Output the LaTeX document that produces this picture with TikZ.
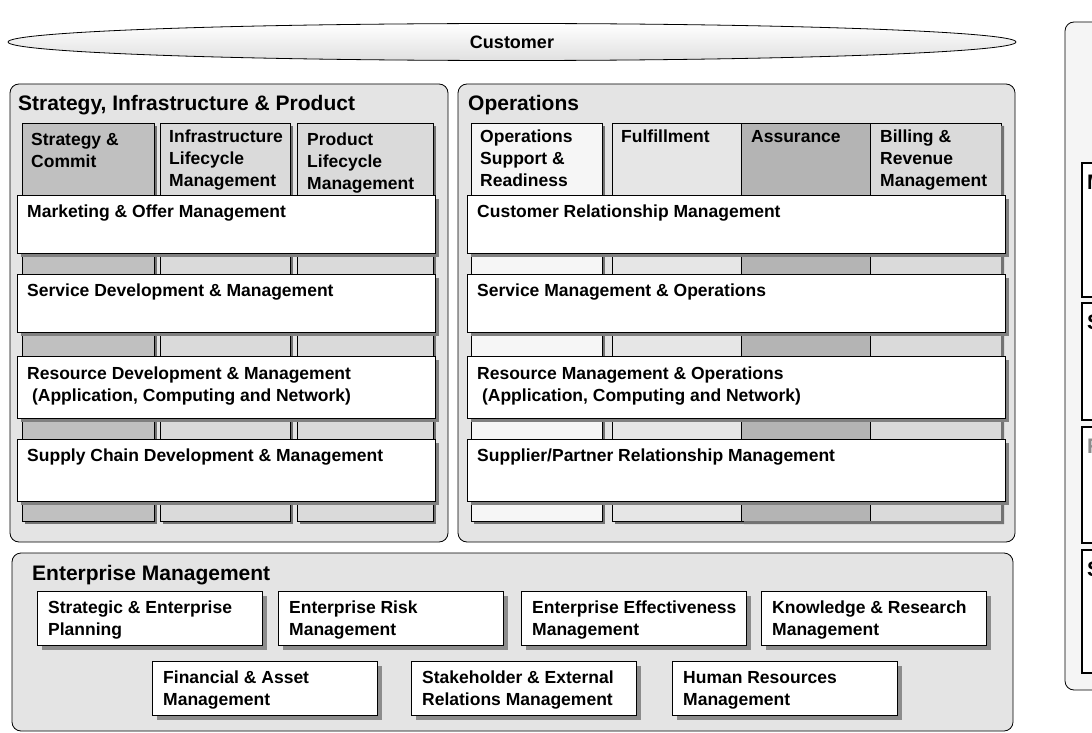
\documentclass[tikz,border=0pt]{standalone}
\usepackage{fontspec}
\setmainfont{Liberation Sans}
\usetikzlibrary{shapes.geometric,shadows}
\definecolor{panel}{HTML}{E4E4E4}
\definecolor{sc}{HTML}{C0C0C0}
\definecolor{lc}{HTML}{DADADA}
\definecolor{asr}{HTML}{B4B4B4}
\definecolor{osr}{HTML}{F6F6F6}
\definecolor{ful}{HTML}{E6E6E6}
\begin{document}
\begin{tikzpicture}[x=1pt,y=-1pt,
  panel/.style={draw=black,line width=0.8pt,fill=panel,rounded corners=9pt},
  col/.style={draw=black,line width=0.6pt,drop shadow={shadow xshift=3pt,shadow yshift=-3pt,fill=black!55,opacity=1}},
  hbox/.style={draw=black,line width=0.6pt,fill=white,drop shadow={shadow xshift=4pt,shadow yshift=-4pt,fill=black!50,opacity=1}},
  ebox/.style={draw=black,line width=0.6pt,fill=white,drop shadow={shadow xshift=5pt,shadow yshift=-5pt,fill=black!45,opacity=1}},
  rbox/.style={draw=black,line width=2pt,fill=white},
  t/.style={font=\bfseries\fontsize{17.5}{22}\selectfont,align=left,anchor=north west,inner sep=0pt},
  pt/.style={font=\bfseries\fontsize{21}{23}\selectfont,anchor=north west,inner sep=0pt}]
\useasboundingbox (0,0) rectangle (1092,733);
\fill[white] (0,0) rectangle (1092,733);
% right panel
\draw[panel,fill=black!4] (1065,22) rectangle (1110,690);
\foreach \a/\b/\n in {163/297/ra,303/420/rb,427/543/rc,550/673/rd}{
  \draw[rbox] (1082,\a) rectangle (1110,\b); \coordinate (\n) at (1087,\a);}
\node[pt,anchor=north west] at ([yshift=-12]ra) {M};
\node[pt,anchor=north west] at ([yshift=-12]rb) {S};
\node[pt,anchor=north west,text=black!45] at ([yshift=-12]rc) {R};
\node[pt,anchor=north west] at ([yshift=-12]rd) {S};
% customer
\node[ellipse,draw=black,line width=0.8pt,top color=white,bottom color=black!12,minimum width=1008pt,minimum height=37pt,inner sep=0pt,font=\bfseries\fontsize{18}{20}\selectfont] (cust) at (512,42) {Customer};
% panels
\draw[panel] (10,84) rectangle (448,542);
\node[pt] (sip) at (18,95) {Strategy, Infrastructure \& Product};
\draw[panel] (458,84) rectangle (1015,542);
\node[pt] (ops) at (468,95) {Operations};
% SIP columns
\draw[col,fill=sc] (22,123) rectangle (154,521);
\draw[col,fill=lc] (160,123) rectangle (290,521);
\draw[col,fill=lc] (297,123) rectangle (433,521);
\node[t] (c1) at (31,133) {Strategy \&\\Commit};
\node[t] (c2) at (169,130) {Infrastructure\\Lifecycle\\Management};
\node[t] (c3) at (307,133) {Product\\Lifecycle\\Management};
% Ops columns
\draw[col,fill=osr] (471,123) rectangle (602,521);
\draw[col,fill=ful] (612,123) rectangle (741,521);
\fill[asr] (741,123) rectangle (870,521);
\draw[line width=0.6pt] (741,123) rectangle (870,521);
\fill[lc] (870,123) rectangle (1001,521);
\draw[line width=0.6pt] (870,123) rectangle (1001,521);
\fill[black!55] (1001,126) rectangle (1004,524) (744,521) rectangle (1004,524);
\node[t] (c4) at (480,130) {Operations\\Support \&\\Readiness};
\node[t] (c5) at (621,130) {Fulfillment};
\node[t] (c6) at (751,130) {Assurance};
\node[t] (c7) at (880,130) {Billing \&\\Revenue\\Management};
% horizontal boxes
\foreach \a/\b/\n in {195/253/h1,274/332/h2,356/418/h3,439/501/h4}{
  \draw[hbox] (17,\a) rectangle (435,\b);
  \draw[hbox] (467,\a) rectangle (1005,\b);}
\node[t] at (27,205) {Marketing \& Offer Management};
\node[t] at (27,284) {Service Development \& Management};
\node[t] at (27,367) {Resource Development \& Management\\\ (Application, Computing and Network)};
\node[t] at (27,449) {Supply Chain Development \& Management};
\node[t] at (477,205) {Customer Relationship Management};
\node[t] at (477,284) {Service Management \& Operations};
\node[t] at (477,367) {Resource Management \& Operations\\\ (Application, Computing and Network)};
\node[t] at (477,449) {Supplier/Partner Relationship Management};
% enterprise
\draw[panel] (12,553) rectangle (1013,731);
\node[pt] (em) at (32,565) {Enterprise Management};
\foreach \x/\y/\txt in {37/591/{Strategic \& Enterprise\\Planning},278/591/{Enterprise Risk\\Management},521/591/{Enterprise Effectiveness\\Management},761/591/{Knowledge \& Research\\Management},152/661/{Financial \& Asset\\Management},411/661/{Stakeholder \& External\\Relations Management},672/661/{Human Resources\\Management}}{
  \draw[ebox] (\x,\y) rectangle ++(225,54);
  \node[t] at (\x+11,\y+10) {\txt};}
\end{tikzpicture}
\end{document}
